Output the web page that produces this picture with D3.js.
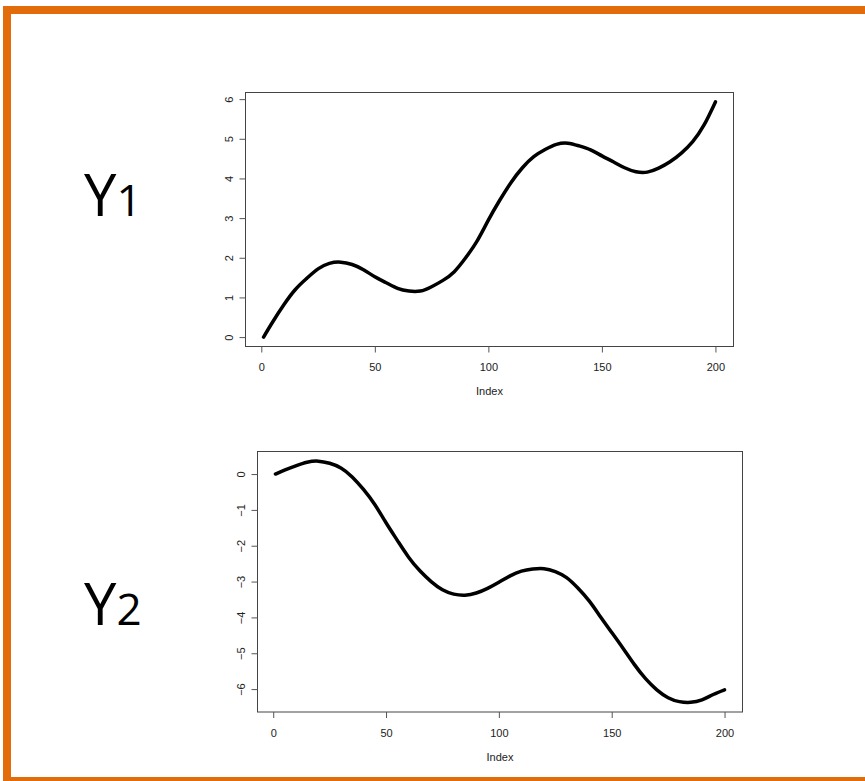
<!DOCTYPE html>
<html>
<head>
<meta charset="utf-8">
<script src="https://cdn.jsdelivr.net/npm/d3@7"></script>
<style>
  body { margin: 0; background: #fff; }
  svg { display: block; }
  .tick text { font-family: "Liberation Sans", Arial, sans-serif; font-size: 11px; fill: #222; }
  .tick line, .domain { stroke: #555; }
  .xlab { font-family: "Liberation Sans", Arial, sans-serif; font-size: 11px; fill: #222; }
  .big { font-family: "Open Sans", "Noto Sans", sans-serif; fill: #000; }
</style>
</head>
<body>
<div id="chart"></div>
<script>
var index = [1, 5, 10, 15, 20, 25, 30, 35, 40, 45, 50, 55, 60, 65, 70, 75, 80, 85, 90, 95, 100,
  105, 110, 115, 120, 125, 130, 135, 140, 145, 150, 155, 160, 165, 170, 175, 180, 185, 190, 195, 200];

// Y1 values (upper panel).
var y1Values = [0.00, 0.38, 0.82, 1.20, 1.48, 1.72, 1.86, 1.89, 1.83, 1.70, 1.52, 1.37, 1.23, 1.16, 1.16, 1.27, 1.43, 1.65, 2.00, 2.42, 2.95,
  3.45, 3.90, 4.27, 4.55, 4.73, 4.86, 4.89, 4.82, 4.72, 4.57, 4.42, 4.27, 4.17, 4.16, 4.26, 4.42, 4.64, 4.93, 5.35, 5.93];

// Y2 values (lower panel).
var y2Values = [0.00, 0.11, 0.23, 0.33, 0.36, 0.30, 0.17, -0.08, -0.43, -0.85, -1.36, -1.85, -2.32, -2.70, -3.00, -3.23, -3.35, -3.38, -3.32, -3.19, -3.02,
  -2.84, -2.71, -2.65, -2.64, -2.72, -2.89, -3.18, -3.54, -3.98, -4.42, -4.86, -5.31, -5.71, -6.02, -6.24, -6.35, -6.37, -6.30, -6.15, -6.02];

var xTicks = [0, 50, 100, 150, 200];
var y1Ticks = [0, 1, 2, 3, 4, 5, 6];
var y2Ticks = [0, -1, -2, -3, -4, -5, -6];

var width = 865;
var height = 781;

var svg = d3.select("#chart").append("svg")
  .attr("width", width)
  .attr("height", height);

// Orange frame (right and bottom run off the page).
svg.append("rect")
  .attr("x", 7)
  .attr("y", 10)
  .attr("width", 900)
  .attr("height", 771)
  .attr("fill", "none")
  .attr("stroke", "#e36c0a")
  .attr("stroke-width", 8);

// R-style padding: 4% each side of the data range.
function padded(lo, hi) {
  var p = (hi - lo) * 0.04;
  return [lo - p, hi + p];
}

// Draws one base-graphics style panel.
function panel(box, values, yTicks) {
  var pts = index.map(function(d, i) { return [d, values[i]]; });

  var xScale = d3.scaleLinear()
    .domain(padded(1, 200))
    .range([box.left, box.right]);
  var yScale = d3.scaleLinear()
    .domain(padded(d3.min(values), d3.max(values)))
    .range([box.bottom, box.top]);

  var g = svg.append("g");

  // Plot box.
  g.append("rect")
    .attr("x", box.left)
    .attr("y", box.top)
    .attr("width", box.right - box.left)
    .attr("height", box.bottom - box.top)
    .attr("fill", "none")
    .attr("stroke", "#444")
    .attr("stroke-width", 1);

  // x axis.
  var xg = g.append("g")
    .attr("transform", "translate(0," + box.bottom + ")")
    .call(d3.axisBottom(xScale).tickValues(xTicks).tickSize(6).tickPadding(11)
      .tickSizeOuter(0).tickFormat(d3.format("d")));
  xg.select(".domain").remove();

  // y axis, labels turned parallel to the axis.
  var yg = g.append("g")
    .attr("transform", "translate(" + box.left + ",0)")
    .call(d3.axisLeft(yScale).tickValues(yTicks).tickSize(6)
      .tickSizeOuter(0).tickFormat(d3.format("d")));
  yg.select(".domain").remove();
  yg.selectAll(".tick text")
    .attr("transform", "rotate(-90)")
    .attr("text-anchor", "middle")
    .attr("x", 0)
    .attr("y", -13)
    .attr("dy", 0);

  // x label.
  g.append("text")
    .attr("class", "xlab")
    .attr("text-anchor", "middle")
    .attr("x", (box.left + box.right) / 2)
    .attr("y", box.bottom + 48.5)
    .text("Index");

  // The curve.
  var line = d3.line()
    .x(function(d) { return xScale(d[0]); })
    .y(function(d) { return yScale(d[1]); })
    .curve(d3.curveNatural);

  g.append("path")
    .datum(pts)
    .attr("fill", "none")
    .attr("stroke", "#000")
    .attr("stroke-width", 3.5)
    .attr("stroke-linecap", "round")
    .attr("stroke-linejoin", "round")
    .attr("d", line);
}

panel({ left: 245.5, right: 733.5, top: 92.5, bottom: 346.5 }, y1Values, y1Ticks);
panel({ left: 257.5, right: 742.5, top: 451.5, bottom: 712 }, y2Values, y2Ticks);

// Big Y1 / Y2 labels.
function bigLabel(x, y, sub) {
  var t = svg.append("text")
    .attr("class", "big")
    .attr("x", x)
    .attr("y", y);
  t.append("tspan").attr("font-size", 58).text("Y");
  t.append("tspan").attr("font-size", 44).attr("dx", 0).text(sub);
}

bigLabel(84, 216, "1");
bigLabel(84, 625, "2");
</script>
</body>
</html>
